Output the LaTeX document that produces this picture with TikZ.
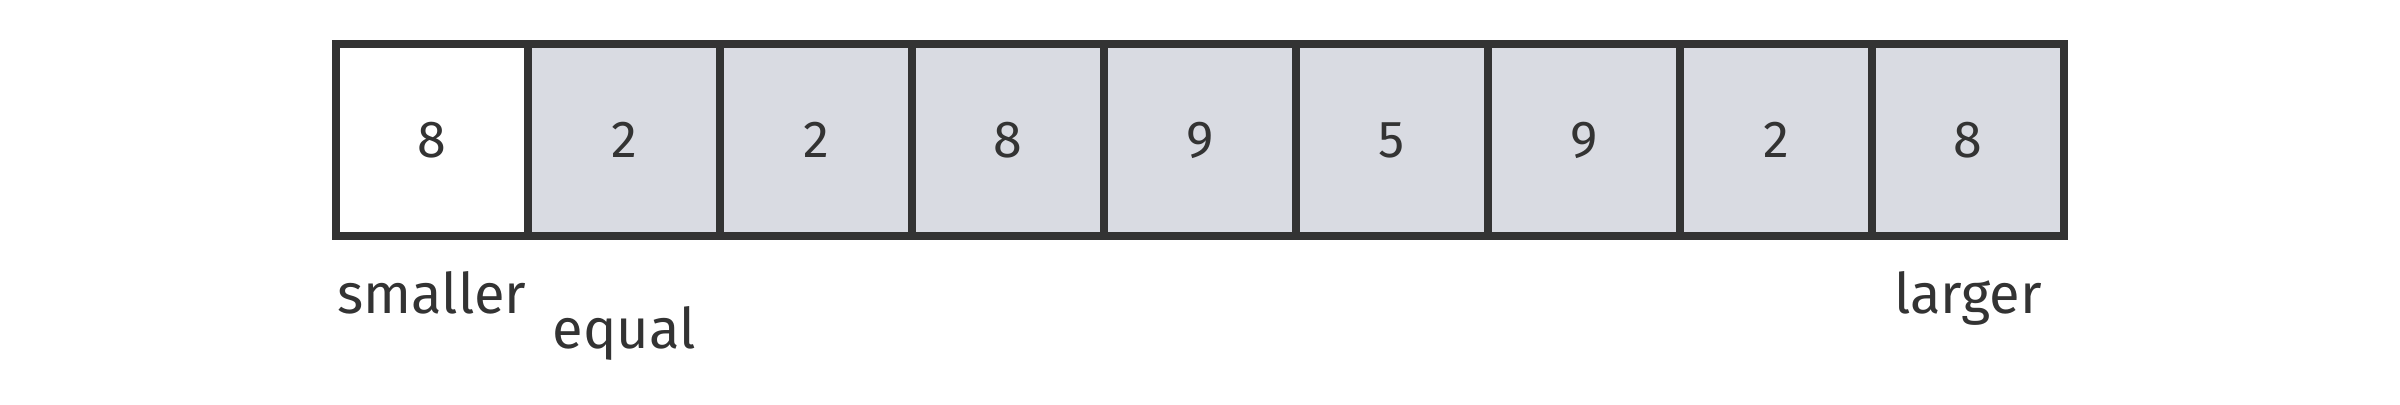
\documentclass[tikz,border=0pt]{standalone}
\usepackage{fontspec}
\setmainfont{Fira Sans}
\usepackage{tikz}
\usetikzlibrary{positioning}
\definecolor{inkgray}{HTML}{333333}
\definecolor{cellgray}{HTML}{D9DBE2}
\tikzstyle{cellbox} = [rectangle, minimum width=96pt, minimum height=96pt, inner sep=0pt, text centered, draw=inkgray, line width=4pt, fill=cellgray, text=inkgray, font=\fontsize{26}{30}\selectfont]
\tikzstyle{pivotbox} = [cellbox, fill=white]
\tikzstyle{tag} = [anchor=base, inner sep=0pt, text=inkgray, font=\fontsize{28}{34}\selectfont]

\begin{document}
\begin{tikzpicture}[node distance=96pt]
    \useasboundingbox (0,0) rectangle (1200pt,202pt);
    \node (Cell1) [pivotbox] at (216pt,132pt) {8};
    \node (Cell2) [cellbox, right of = Cell1] {2};
    \node (Cell3) [cellbox, right of = Cell2] {2};
    \node (Cell4) [cellbox, right of = Cell3] {8};
    \node (Cell5) [cellbox, right of = Cell4] {9};
    \node (Cell6) [cellbox, right of = Cell5] {5};
    \node (Cell7) [cellbox, right of = Cell6] {9};
    \node (Cell8) [cellbox, right of = Cell7] {2};
    \node (Cell9) [cellbox, right of = Cell8] {8};
    \node (Smaller) [tag] at (Cell1 |- 0,45.5pt) {smaller};
    \node (Equal) [tag] at (Cell2 |- 0,28pt) {equal};
    \node (Larger) [tag] at (Cell9 |- 0,45.5pt) {larger};
\end{tikzpicture}
\end{document}
